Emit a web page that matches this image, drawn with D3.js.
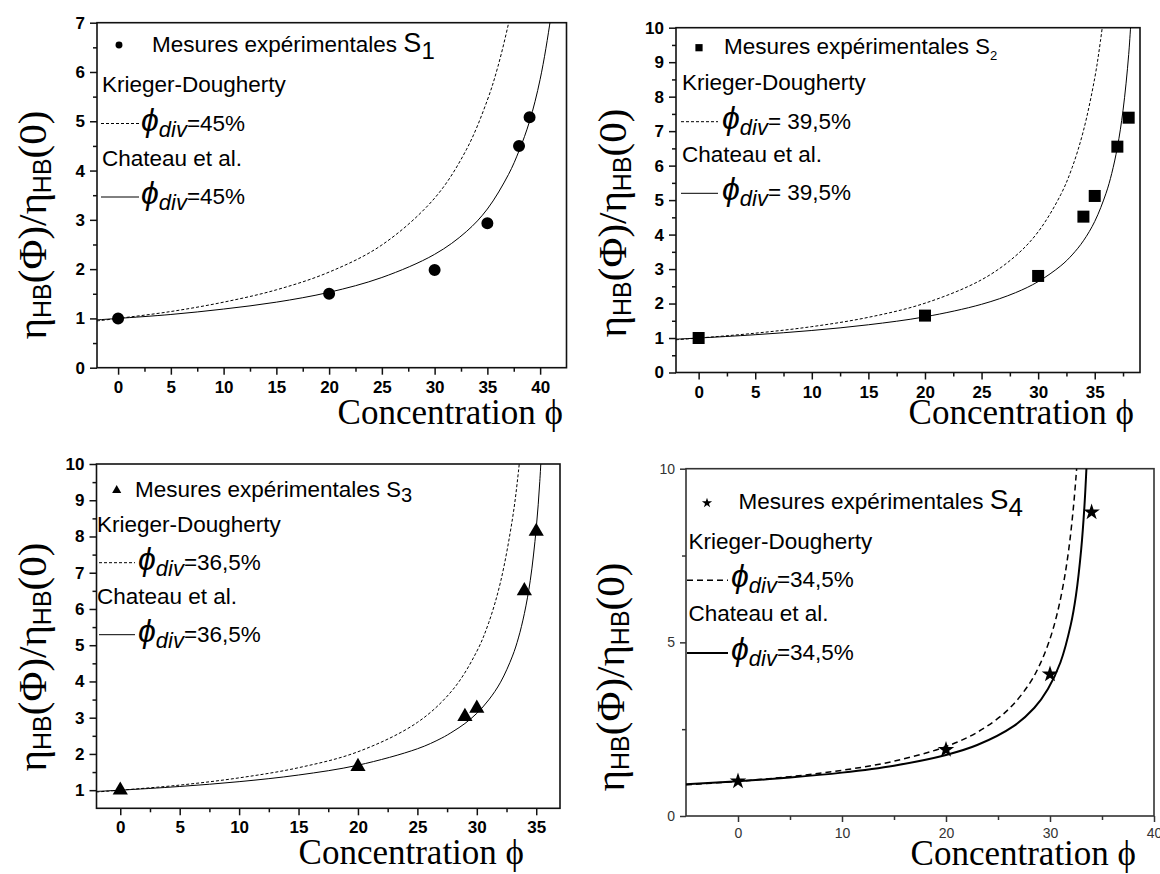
<!DOCTYPE html>
<html><head><meta charset="utf-8">
<script src="https://cdn.jsdelivr.net/npm/d3@7"></script>
<style>body{margin:0;background:#fff}svg{display:block}</style>
</head><body>
<svg id="chart" width="1160" height="874"></svg>
<script>
// ---------- DATA ----------
// Panel S1
const s1Phi = [0, 20, 30, 35, 38, 39];
const s1Eta = [1.0, 1.5, 1.98, 2.93, 4.5, 5.08];
const kd1Phi = [-2, 0, 5, 10, 15, 20, 25, 30, 33, 35, 36, 37, 37.5];
const kd1Eta = [0.95, 1.0, 1.14, 1.33, 1.58, 1.94, 2.49, 3.44, 4.42, 5.43, 6.11, 6.98, 7.5];
const ch1Phi = [-2, 0, 5, 10, 15, 20, 25, 30, 33, 35, 37, 38, 39, 40, 41, 41.5];
const ch1Eta = [0.97, 1.0, 1.08, 1.19, 1.33, 1.53, 1.83, 2.30, 2.76, 3.22, 3.92, 4.40, 5.0, 5.85, 7.1, 8.0];
// Panel S2
const s2Phi = [0, 20, 30, 34, 35, 37, 38];
const s2Eta = [1.0, 1.65, 2.8, 4.52, 5.12, 6.55, 7.39];
const kd2Phi = [-2, 0, 5, 10, 15, 20, 25, 28, 30, 32, 33, 34, 35, 35.5, 36];
const kd2Eta = [0.95, 1.0, 1.14, 1.33, 1.6, 2.01, 2.69, 3.38, 4.08, 5.16, 5.94, 7.01, 8.54, 9.6, 10.9];
const ch2Phi = [-2, 0, 5, 10, 15, 20, 25, 28, 30, 32, 33, 34, 35, 36, 36.5, 37, 37.5, 38, 38.3];
const ch2Eta = [0.967, 1.0, 1.096, 1.219, 1.384, 1.615, 1.978, 2.315, 2.636, 3.094, 3.41, 3.82, 4.38, 5.2, 5.77, 6.53, 7.6, 9.22, 10.77];
// Panel S3
const s3Phi = [0, 20, 29, 30, 34, 35];
const s3Eta = [1.0, 1.65, 3.03, 3.26, 6.5, 8.14];
const kd3Phi = [-2, 0, 5, 10, 15, 20, 25, 28, 30, 31, 32, 33, 33.5, 34];
const kd3Eta = [0.95, 1.0, 1.14, 1.34, 1.62, 2.06, 2.87, 3.78, 4.83, 5.62, 6.75, 8.49, 9.78, 11.5];
const ch3Phi = [-2, 0, 5, 10, 15, 20, 25, 27, 28, 29, 30, 31, 32, 33, 33.5, 34, 34.5, 35, 35.3, 35.5];
const ch3Eta = [0.966, 1.0, 1.102, 1.235, 1.418, 1.689, 2.142, 2.43, 2.62, 2.84, 3.12, 3.49, 3.98, 4.70, 5.20, 5.87, 6.79, 8.22, 9.52, 10.76];
// Panel S4
const s4Phi = [0, 20, 30, 34];
const s4Eta = [1.0, 1.91, 4.08, 8.75];
const kd4Phi = [-5, 0, 5, 10, 15, 20, 23, 25.9, 28, 29.1, 30, 30.7, 31.3, 31.8, 32.2, 32.5, 32.7];
const kd4Eta = [0.897, 1.0, 1.133, 1.315, 1.579, 2.0, 2.41, 3.04, 3.80, 4.41, 5.1, 5.84, 6.70, 7.67, 8.73, 9.76, 10.6];
const ch4Phi = [-5, 0, 5, 10, 15, 20, 23, 26.5, 28.5, 29.8, 31, 32, 32.5, 33, 33.3, 33.5, 33.7];
const ch4Eta = [0.916, 1.0, 1.107, 1.249, 1.449, 1.757, 2.043, 2.588, 3.116, 3.656, 4.42, 5.51, 6.36, 7.68, 8.87, 9.99, 11.5];

// Tick values
const xMajor1 = [0, 5, 10, 15, 20, 25, 30, 35, 40];
const xMinor1 = [2.5, 7.5, 12.5, 17.5, 22.5, 27.5, 32.5, 37.5];
const yMajor1 = [0, 1, 2, 3, 4, 5, 6, 7];
const yMinor1 = [0.5, 1.5, 2.5, 3.5, 4.5, 5.5, 6.5];
const xMajor2 = [0, 5, 10, 15, 20, 25, 30, 35];
const xMinor2 = [2.5, 7.5, 12.5, 17.5, 22.5, 27.5, 32.5, 37.5];
const yMajor2 = [0, 1, 2, 3, 4, 5, 6, 7, 8, 9, 10];
const yMinor2 = [0.5, 1.5, 2.5, 3.5, 4.5, 5.5, 6.5, 7.5, 8.5, 9.5];
const xMajor3 = [0, 5, 10, 15, 20, 25, 30, 35];
const xMinor3 = [2.5, 7.5, 12.5, 17.5, 22.5, 27.5, 32.5];
const yMajor3 = [1, 2, 3, 4, 5, 6, 7, 8, 9, 10];
const yMinor3 = [1.5, 2.5, 3.5, 4.5, 5.5, 6.5, 7.5, 8.5, 9.5];
const xMajor4 = [0, 10, 20, 30, 40];
const xMinor4 = [5, 15, 25, 35];
const yMajor4 = [0, 5, 10];
const yMinor4 = [2.5, 7.5];

// Legend texts
const legendMeasure = "Mesures expérimentales ";
const legendKD = "Krieger-Dougherty";
const legendCH = "Chateau et al.";
const divLabels = ["=45%", "= 39,5%", "=36,5%", "=34,5%"];
const sampleSubs = ["1", "2", "3", "4"];

// ---------- LAYOUT ----------
const SANS = "'Liberation Sans', Arial, sans-serif";
const SERIF = "'Liberation Serif', 'Times New Roman', serif";

const panels = [
  { id: 1, box: {l: 97, r: 566.5, t: 22.7, b: 367.7}, xd: [-2, 42.5], yd: [0, 7],
    xMajor: xMajor1, xMinor: xMinor1, yMajor: yMajor1, yMinor: yMinor1,
    pts: [s1Phi, s1Eta], kd: [kd1Phi, kd1Eta], ch: [ch1Phi, ch1Eta],
    sym: d3.symbolCircle, symSize: 113, legSymSize: 38,
    modern: false, lw: 1, dash: "3,2",
    ylab: {x: 46, y: 225}, xlab: {x: 563, y: 424},
    leg: {sx: 119, sy: 45, tx: 152, ty: 52, S: 27, sub: 24, subDy: 7,
          kdx: 102, kdy: 92, l1y: 123.5, l2y: 197, lx0: 101, lx1: 139, px: 141, chy: 166} },
  { id: 2, box: {l: 676, r: 1140, t: 27.7, b: 372.5}, xd: [-2, 39], yd: [0, 10],
    xMajor: xMajor2, xMinor: xMinor2, yMajor: yMajor2, yMinor: yMinor2,
    pts: [s2Phi, s2Eta], kd: [kd2Phi, kd2Eta], ch: [ch2Phi, ch2Eta],
    sym: d3.symbolSquare, symSize: 144, legSymSize: 52,
    modern: false, lw: 1, dash: "3,2",
    ylab: {x: 626, y: 223}, xlab: {x: 1134, y: 424},
    leg: {sx: 699, sy: 47.7, tx: 724, ty: 53.5, S: 22, sub: 13, subDy: 6,
          kdx: 682, kdy: 89.5, l1y: 121.7, l2y: 193.3, lx0: 681, lx1: 718, px: 722, chy: 161.7} },
  { id: 3, box: {l: 96.5, r: 560, t: 464, b: 808.3}, xd: [-2, 37], yd: [0.5, 10],
    xMajor: xMajor3, xMinor: xMinor3, yMajor: yMajor3, yMinor: yMinor3,
    pts: [s3Phi, s3Eta], kd: [kd3Phi, kd3Eta], ch: [ch3Phi, ch3Eta],
    sym: d3.symbolTriangle, symSize: 100, legSymSize: 36,
    modern: false, lw: 1, dash: "3,2",
    ylab: {x: 46, y: 657}, xlab: {x: 524, y: 864},
    leg: {sx: 116.7, sy: 490.3, tx: 135, ty: 496.5, S: 22, sub: 20, subDy: 5,
          kdx: 97, kdy: 531.5, l1y: 562.7, l2y: 634.7, lx0: 99, lx1: 135, px: 138, chy: 604} },
  { id: 4, box: {l: 686, r: 1154, t: 468.7, b: 816}, xd: [-5, 40], yd: [0, 10],
    xMajor: xMajor4, xMinor: xMinor4, yMajor: yMajor4, yMinor: yMinor4,
    pts: [s4Phi, s4Eta], kd: [kd4Phi, kd4Eta], ch: [ch4Phi, ch4Eta],
    sym: d3.symbolStar, symSize: 85, legSymSize: 32,
    modern: true, lw: 2, dash: "6,4",
    ylab: {x: 624, y: 677}, xlab: {x: 1136, y: 865},
    leg: {sx: 707, sy: 503, tx: 738.5, ty: 509, S: 28, sub: 26, subDy: 7,
          kdx: 688.5, kdy: 549, l1y: 580.3, l2y: 653, lx0: 687, lx1: 728, px: 731, chy: 620.5} }
];

const svg = d3.select("#chart");
const defs = svg.append("defs");

function zip(a, b) { return a.map((v, i) => [v, b[i]]); }

panels.forEach(p => {
  const B = p.box;
  const x = d3.scaleLinear().domain(p.xd).range([B.l, B.r]);
  const y = d3.scaleLinear().domain(p.yd).range([B.b, B.t]);
  const g = svg.append("g");
  const axisColor = p.modern ? "#333" : "#111";
  const FS = 22.5;

  defs.append("clipPath").attr("id", "clip" + p.id)
    .append("rect").attr("x", B.l).attr("y", B.t).attr("width", B.r - B.l).attr("height", B.b - B.t);

  // axes
  const majLen = p.modern ? 6 : 7, minLen = 4;
  const styleAxis = (sel) => {
    sel.select(".domain").remove();
    sel.selectAll(".tick line").attr("stroke", axisColor).attr("stroke-width", 1.5);
    sel.selectAll("text")
      .attr("font-family", SANS)
      .attr("font-size", p.modern ? 14 : 17)
      .attr("font-weight", p.modern ? "normal" : "bold")
      .attr("fill", p.modern ? "#333" : "#000");
  };
  g.append("g").attr("transform", `translate(0,${B.b})`)
    .call(d3.axisBottom(x).tickValues(p.xMajor).tickSize(majLen).tickPadding(6).tickFormat(d3.format("d")))
    .call(styleAxis);
  g.append("g").attr("transform", `translate(0,${B.b})`)
    .call(d3.axisBottom(x).tickValues(p.xMinor).tickSize(minLen).tickFormat(""))
    .call(styleAxis);
  g.append("g").attr("transform", `translate(${B.l},0)`)
    .call(d3.axisLeft(y).tickValues(p.yMajor).tickSize(majLen).tickPadding(5).tickFormat(d3.format("d")))
    .call(styleAxis);
  g.append("g").attr("transform", `translate(${B.l},0)`)
    .call(d3.axisLeft(y).tickValues(p.yMinor).tickSize(minLen).tickFormat(""))
    .call(styleAxis);

  // frame
  g.append("rect").attr("x", B.l).attr("y", B.t).attr("width", B.r - B.l).attr("height", B.b - B.t)
    .attr("fill", "none").attr("stroke", axisColor).attr("stroke-width", 1.6);

  // curves
  const line = d3.line().x(d => x(d[0])).y(d => y(d[1])).curve(d3.curveCatmullRom.alpha(0.5));
  const cg = g.append("g").attr("clip-path", `url(#clip${p.id})`);
  cg.append("path").datum(zip(p.kd[0], p.kd[1])).attr("d", line)
    .attr("fill", "none").attr("stroke", "#000").attr("stroke-width", p.modern ? 1.5 : 1).attr("stroke-dasharray", p.dash);
  cg.append("path").datum(zip(p.ch[0], p.ch[1])).attr("d", line)
    .attr("fill", "none").attr("stroke", "#000").attr("stroke-width", p.lw);

  // markers
  const symbol = d3.symbol().type(p.sym).size(p.symSize);
  g.selectAll(".pt").data(zip(p.pts[0], p.pts[1])).join("path")
    .attr("transform", d => `translate(${x(d[0])},${y(d[1])})`)
    .attr("d", symbol).attr("fill", "#000");

  // y label
  const yl = g.append("text")
    .attr("transform", `translate(${p.ylab.x},${p.ylab.y}) rotate(-90)`)
    .attr("text-anchor", "middle").attr("font-family", SERIF).attr("font-size", 41).attr("fill", "#000");
  yl.append("tspan").text("η");
  yl.append("tspan").attr("font-family", SANS).attr("font-size", 25).attr("dy", 5).text("HB");
  yl.append("tspan").attr("dy", -5).text("(Φ)/η");
  yl.append("tspan").attr("font-family", SANS).attr("font-size", 25).attr("dy", 5).text("HB");
  yl.append("tspan").attr("dy", -5).text("(0)");

  // x label
  g.append("text").attr("x", p.xlab.x).attr("y", p.xlab.y).attr("text-anchor", "end")
    .attr("font-family", SERIF).attr("font-size", 35).attr("fill", "#000").text("Concentration ϕ");

  // legend
  const L = p.leg;
  g.append("path").attr("transform", `translate(${L.sx},${L.sy})`)
    .attr("d", d3.symbol().type(p.sym).size(p.legSymSize)()).attr("fill", "#000");
  const t1 = g.append("text").attr("x", L.tx).attr("y", L.ty).attr("font-family", SANS).attr("font-size", FS).attr("fill", "#000");
  t1.append("tspan").text(legendMeasure);
  t1.append("tspan").attr("font-size", L.S).text("S");
  t1.append("tspan").attr("font-size", L.sub).attr("dy", L.subDy).text(sampleSubs[p.id - 1]);

  g.append("text").attr("x", L.kdx).attr("y", L.kdy).attr("font-family", SANS).attr("font-size", FS).attr("fill", "#000").text(legendKD);
  g.append("text").attr("x", L.kdx).attr("y", L.chy).attr("font-family", SANS).attr("font-size", FS).attr("fill", "#000").text(legendCH);

  g.append("line").attr("x1", L.lx0).attr("x2", L.lx1).attr("y1", L.l1y).attr("y2", L.l1y)
    .attr("stroke", "#000").attr("stroke-width", p.modern ? 1.5 : 1).attr("stroke-dasharray", p.dash);
  g.append("line").attr("x1", L.lx0).attr("x2", L.lx1).attr("y1", L.l2y).attr("y2", L.l2y)
    .attr("stroke", "#000").attr("stroke-width", p.lw);

  [L.l1y, L.l2y].forEach(ly => {
    const t = g.append("text").attr("x", L.px).attr("y", ly + 7).attr("font-family", SANS).attr("font-size", FS).attr("fill", "#000");
    t.append("tspan").attr("font-style", "italic").attr("font-size", 32).text("ϕ");
    t.append("tspan").attr("font-style", "italic").attr("font-size", 22).attr("dy", 6).text("div");
    t.append("tspan").attr("dy", -6).text(divLabels[p.id - 1]);
  });
});
</script>
</body></html>
